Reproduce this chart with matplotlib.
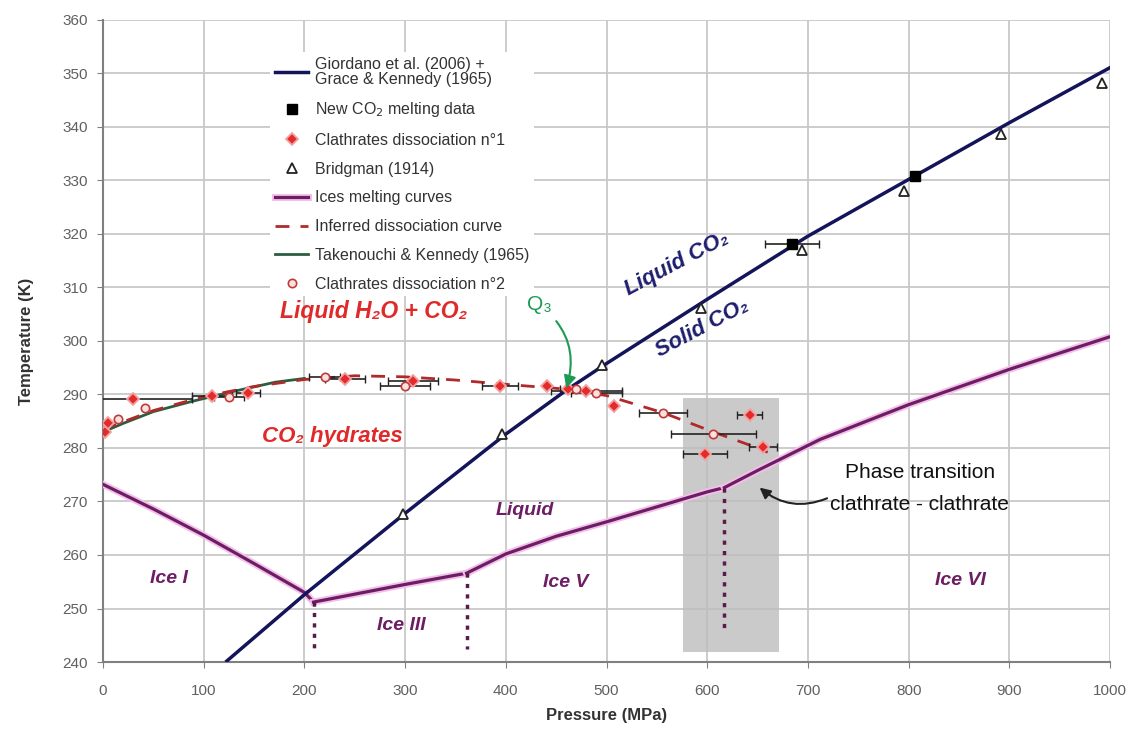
import matplotlib
matplotlib.use("Agg")
import matplotlib.pyplot as plt
import matplotlib.patheffects as pe
from matplotlib.patches import Rectangle

plt.rcParams['font.family'] = ['Liberation Sans', 'DejaVu Sans']

# CO2 melting curve (Giordano et al. 2006 + Grace & Kennedy 1965)
co2_p = [123, 200, 300, 400, 460, 500, 600, 700, 800, 900, 1000]
co2_t = [240.2, 252.6, 267.8, 282.6, 290.8, 295.8, 307.8, 319.6, 330.2, 340.8, 351.1]

# new CO2 melting data
new_p = [684, 806]
new_t = [318.2, 330.8]
new_xerr = [27, 0]

# Bridgman (1914)
brid_p = [298, 396, 495, 594, 694, 795, 892, 992]
brid_t = [267.7, 282.7, 295.6, 306.1, 317.0, 328.0, 338.7, 348.3]

# ices melting curves
ice1_p = [0, 50, 100, 150, 200, 209]
ice1_t = [273.2, 268.6, 263.7, 258.4, 253.0, 251.2]
ice3_p = [209, 300, 361]
ice3_t = [251.2, 254.5, 256.6]
ice5_p = [361, 400, 450, 500, 550, 600, 617]
ice5_t = [256.6, 260.2, 263.5, 266.2, 269.0, 271.8, 272.6]
ice6_p = [617, 650, 712, 800, 900, 1000]
ice6_t = [272.6, 275.8, 281.6, 288.1, 294.7, 300.8]

# triple point verticals
vert_p = [209, 361, 617]
vert_top = [251.2, 256.6, 272.6]
vert_bot = [242.5, 242.5, 245.5]

# inferred dissociation curve
diss_p = [0, 50, 100, 150, 200, 250, 300, 350, 400, 460, 500, 556, 606, 650, 660]
diss_t = [283.5, 287.0, 289.6, 291.5, 292.8, 293.5, 293.3, 292.7, 291.9, 291.0, 289.8, 286.6, 283.0, 280.0, 279.2]

# Takenouchi & Kennedy (1965)
tk_p = [0, 20, 50, 88, 130, 171, 200]
tk_t = [283.0, 284.6, 286.8, 288.7, 290.6, 292.3, 293.0]

# clathrates dissociation n°1 (x error: lower, upper)
c1_p = [2, 5, 30, 108, 144, 240, 308, 394, 441, 462, 480, 507, 598, 642, 655]
c1_t = [283.0, 284.7, 289.1, 289.7, 290.3, 292.9, 292.5, 291.5, 291.5, 291.0, 290.6, 287.8, 278.9, 286.1, 280.2]
c1_xlo = [0, 0, 35, 20, 12, 20, 25, 18, 0, 8, 35, 0, 22, 12, 14]
c1_xhi = [0, 0, 58, 20, 12, 20, 25, 18, 0, 8, 35, 0, 22, 12, 14]

# clathrates dissociation n°2
c2_p = [15, 42, 125, 220, 300, 470, 490, 556, 606]
c2_t = [285.5, 287.5, 289.5, 293.3, 291.5, 291.0, 290.2, 286.6, 282.6]
c2_xerr = [0, 0, 15, 15, 25, 0, 25, 24, 42]

fig = plt.figure(figsize=(11.45, 7.4), dpi=100)
ax = fig.add_axes([0.09, 0.1054, 0.8795, 0.8676])
ax.set_xlim(0, 1000)
ax.set_ylim(240, 360)
ax.set_xticks(range(0, 1001, 100))
ax.set_yticks(range(240, 361, 10))
ax.grid(True, color='#c8c8c8', lw=1.3)
ax.set_axisbelow(True)
for s in ['top', 'right']:
    ax.spines[s].set_visible(False)
for s in ['left', 'bottom']:
    ax.spines[s].set_color('#808080')
    ax.spines[s].set_linewidth(1.5)
ax.tick_params(colors='#808080', labelcolor='#606060', labelsize=11, length=4)
ax.tick_params(axis='x', pad=12)
ax.tick_params(axis='y', pad=7)
ax.set_xlabel('Pressure (MPa)', fontsize=12, fontweight='bold', color='#333333', labelpad=7)
ax.set_ylabel('Temperature (K)', fontsize=12, fontweight='bold', color='#333333', labelpad=20)

# shaded zone of the clathrate-clathrate transition
ax.add_patch(Rectangle((576, 241.8), 95, 47.6, facecolor='#bdbdbd', alpha=0.8, edgecolor='none', zorder=1.5))

halo = [pe.withStroke(linewidth=5, foreground='#f3c0ea')]
purple = '#6d1d63'
ax.plot(ice1_p, ice1_t, color=purple, lw=2.3, path_effects=halo, zorder=3, label='Ices melting curves')
ax.plot(ice3_p, ice3_t, color=purple, lw=2.3, path_effects=halo, zorder=3)
ax.plot(ice5_p, ice5_t, color=purple, lw=2.3, path_effects=halo, zorder=3)
ax.plot(ice6_p, ice6_t, color=purple, lw=2.3, path_effects=halo, zorder=3)
for p, t0, t1 in zip(vert_p, vert_top, vert_bot):
    ax.plot([p, p], [t0, t1], color='#5a1a4a', lw=2.5, ls=(0, (1.2, 1.8)), zorder=3)

ax.plot(co2_p, co2_t, color='#14145a', lw=2.5, zorder=4,
        label='Giordano et al. (2006) +\nGrace & Kennedy (1965)')

ax.plot(tk_p, tk_t, color='#2a5e40', lw=2, zorder=4, label='Takenouchi & Kennedy (1965)')
ax.plot(diss_p, diss_t, color='#b02a2a', lw=2, ls=(0, (5, 4)), zorder=4, label='Inferred dissociation curve')

ax.errorbar(c1_p, c1_t, xerr=[c1_xlo, c1_xhi], fmt='none', ecolor='#222222', elinewidth=1.2, capsize=3, zorder=5)
ax.errorbar(c2_p, c2_t, xerr=c2_xerr, fmt='none', ecolor='#222222', elinewidth=1.2, capsize=3, zorder=5)
ax.errorbar(new_p, new_t, xerr=new_xerr, fmt='none', ecolor='#222222', elinewidth=1.2, capsize=3, zorder=5)

ax.plot(c1_p, c1_t, ls='none', marker='D', ms=6.5, mfc='#e32b2b', mec='#f4a0a0', mew=1.3, zorder=6,
        label='Clathrates dissociation n°1')
ax.plot(c2_p, c2_t, ls='none', marker='o', ms=6, mfc='#fbe0e0', mec='#c03a3a', mew=1.2, zorder=6,
        label='Clathrates dissociation n°2')
ax.plot(brid_p, brid_t, ls='none', marker='^', ms=7, mfc='white', mec='#222222', mew=1.3, zorder=6,
        label='Bridgman (1914)')
ax.plot(new_p, new_t, ls='none', marker='s', ms=7, color='black', zorder=6,
        label='New CO$_2$ melting data')

# region labels
bi = dict(fontweight='bold', style='italic', zorder=9)
ax.text(570, 314.4, 'Liquid CO₂', color='#1e1e6e', fontsize=16, rotation=28, ha='center', va='center', **bi)
ax.text(595, 302.3, 'Solid CO₂', color='#1e1e6e', fontsize=16, rotation=28, ha='center', va='center', **bi)
ax.text(269, 305.5, 'Liquid H₂O + CO₂', color='#e02a2a', fontsize=16.5, ha='center', va='center', **bi)
ax.text(228, 282.2, 'CO₂ hydrates', color='#e02a2a', fontsize=16, ha='center', va='center', **bi)
ax.text(419, 268.3, 'Liquid', color='#6d1d63', fontsize=14, ha='center', va='center', **bi)
ax.text(65, 255.6, 'Ice I', color='#6d1d63', fontsize=14, ha='center', va='center', **bi)
ax.text(296, 246.8, 'Ice III', color='#6d1d63', fontsize=14, ha='center', va='center', **bi)
ax.text(459, 254.8, 'Ice V', color='#6d1d63', fontsize=14, ha='center', va='center', **bi)
ax.text(851, 255.2, 'Ice VI', color='#6d1d63', fontsize=14, ha='center', va='center', **bi)

ax.annotate('Q₃', xy=(460, 291.2), xytext=(433, 306.8), color='#1d9a55', fontsize=15,
            ha='center', va='center', zorder=7,
            arrowprops=dict(arrowstyle='-|>', color='#1d9a55', lw=1.5, mutation_scale=18,
                            connectionstyle='arc3,rad=-0.35', shrinkA=4, shrinkB=0))
ax.text(811, 275.5, 'Phase transition', fontsize=15, color='#111111', ha='center', va='center', zorder=7)
ax.text(811, 269.5, 'clathrate - clathrate', fontsize=15, color='#111111', ha='center', va='center', zorder=7)
ax.annotate('', xy=(652, 272.6), xytext=(719, 270.6), zorder=7,
            arrowprops=dict(arrowstyle='-|>', color='#222222', lw=1.5, mutation_scale=16,
                            connectionstyle='arc3,rad=-0.3', shrinkA=0, shrinkB=0))

# legend
h, l = ax.get_legend_handles_labels()
order = ['Giordano et al. (2006) +\nGrace & Kennedy (1965)', 'New CO$_2$ melting data',
         'Clathrates dissociation n°1', 'Bridgman (1914)', 'Ices melting curves',
         'Inferred dissociation curve', 'Takenouchi & Kennedy (1965)', 'Clathrates dissociation n°2']
hd = dict(zip(l, h))
leg = ax.legend([hd[k] for k in order], order, loc='upper left', bbox_to_anchor=(0.158, 0.962),
                fontsize=11.5, frameon=True, facecolor='white', edgecolor='none', framealpha=1,
                labelspacing=0.86, handlelength=2.1, handletextpad=0.4, borderpad=0.3)
leg.set_zorder(8)
for t in leg.get_texts():
    t.set_color('#333333')
    t.set_linespacing(0.95)

fig.savefig('out.png', dpi=100)
